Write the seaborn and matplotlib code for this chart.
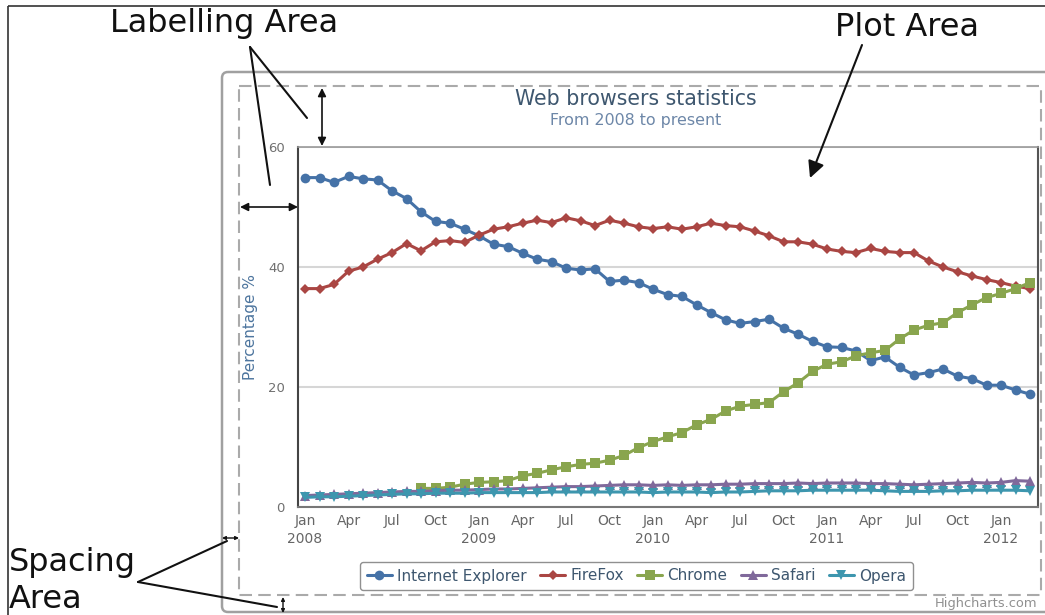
import numpy as np
import pandas as pd
import matplotlib
matplotlib.use("Agg")
import matplotlib.pyplot as plt
import seaborn as sns
from matplotlib.patches import FancyBboxPatch, Rectangle

# ---------------- data ----------------
months = list(range(51))  # monthly points, Jan 2008 .. Mar 2012
tick_months = list(range(0, 49, 3))
tick_labels = ["Jan\n2008", "Apr", "Jul", "Oct",
               "Jan\n2009", "Apr", "Jul", "Oct",
               "Jan\n2010", "Apr", "Jul", "Oct",
               "Jan\n2011", "Apr", "Jul", "Oct",
               "Jan\n2012"]
y_ticks = [0, 20, 40, 60]

ie = [54.9, 54.9, 54.1, 55.1, 54.7, 54.5, 52.7, 51.4, 49.2, 47.6,
      47.3, 46.3, 45.2, 43.8, 43.4, 42.3, 41.3, 40.9, 39.8, 39.5,
      39.7, 37.6, 37.8, 37.4, 36.3, 35.4, 35.1, 33.7, 32.4, 31.2,
      30.6, 30.9, 31.3, 29.8, 28.8, 27.6, 26.7, 26.6, 26.0, 24.4,
      25.0, 23.3, 22.0, 22.4, 23.0, 21.8, 21.4, 20.3, 20.3, 19.5,
      18.8]
firefox = [36.4, 36.4, 37.1, 39.3, 40.0, 41.3, 42.4, 43.9, 42.7, 44.2,
           44.4, 44.1, 45.3, 46.3, 46.7, 47.3, 47.8, 47.4, 48.2, 47.7,
           46.9, 47.8, 47.3, 46.7, 46.4, 46.7, 46.3, 46.7, 47.3, 46.9,
           46.7, 46.0, 45.2, 44.2, 44.2, 43.8, 43.0, 42.6, 42.4, 43.1,
           42.6, 42.4, 42.4, 41.0, 40.0, 39.2, 38.5, 37.9, 37.4, 36.8,
           36.4]
chrome_months = list(range(8, 51))
chrome = [3.1, 3.1, 3.3, 3.8, 4.1, 4.2, 4.4, 5.2, 5.6, 6.2,
          6.7, 7.1, 7.3, 7.8, 8.6, 9.9, 10.9, 11.7, 12.4, 13.7,
          14.6, 16.0, 16.8, 17.1, 17.4, 19.2, 20.7, 22.6, 23.8, 24.2,
          25.2, 25.7, 26.1, 28.0, 29.5, 30.3, 30.7, 32.4, 33.7, 34.9,
          35.6, 36.4, 37.4]
safari = [1.9, 2.0, 2.1, 2.2, 2.3, 2.4, 2.5, 2.6, 2.6, 2.7,
          2.8, 2.8, 2.9, 3.0, 3.0, 3.1, 3.2, 3.3, 3.4, 3.4,
          3.5, 3.6, 3.7, 3.7, 3.6, 3.7, 3.6, 3.7, 3.7, 3.8,
          3.8, 3.9, 3.9, 3.9, 4.0, 3.9, 4.0, 4.0, 4.0, 3.9,
          3.9, 3.8, 3.7, 3.8, 3.9, 4.0, 4.1, 4.0, 4.1, 4.4,
          4.3]
opera = [1.6, 1.7, 1.7, 1.8, 1.9, 2.0, 2.1, 2.2, 2.2, 2.3,
         2.3, 2.3, 2.4, 2.4, 2.4, 2.4, 2.4, 2.5, 2.5, 2.5,
         2.5, 2.5, 2.5, 2.5, 2.4, 2.5, 2.5, 2.5, 2.4, 2.5,
         2.5, 2.6, 2.7, 2.7, 2.7, 2.8, 2.8, 2.8, 2.8, 2.8,
         2.7, 2.6, 2.6, 2.6, 2.7, 2.7, 2.8, 2.8, 2.8, 2.8,
         2.7]

series_names = ["Internet Explorer", "FireFox", "Chrome", "Safari", "Opera"]
series_colors = ["#4572A7", "#AA4643", "#89A54E", "#80699B", "#3D96AE"]
series_markers = ["o", "D", "s", "^", "v"]
series_msize = [7.0, 5.0, 6.6, 7.2, 7.2]

# ---------------- figure ----------------
sns.set_style("white")
plt.rcParams["font.family"] = ["DejaVu Sans"]

W, H = 1045, 615
fig = plt.figure(figsize=(W / 100, H / 100), dpi=100)
fig.patch.set_facecolor("white")

def fy(py):
    return 1 - py / H

ax = fig.add_axes([298 / W, 1 - 507 / H, 740 / W, 360 / H])
ax.set_facecolor("white")

xs = [months, months, chrome_months, months, months]
ys = [ie, firefox, chrome, safari, opera]
for x, y, name, c, m, ms in zip(xs, ys, series_names, series_colors,
                                 series_markers, series_msize):
    sns.lineplot(x=x, y=y, ax=ax, color=c, marker=m, markersize=ms,
                 markeredgewidth=0, linewidth=2.2, label=name)

ax.set_xlim(-0.483, 50.55)
ax.set_ylim(0, 60)
ax.set_yticks(y_ticks)
ax.set_yticklabels([str(v) for v in y_ticks])
ax.set_xticks(tick_months)
ax.set_xticklabels(tick_labels, linespacing=1.35)
ax.set_xticks([t + 0.55 for t in tick_months], minor=True)
ax.tick_params(axis="x", which="major", length=0, pad=5, labelsize=10,
               labelcolor="#666666")
ax.tick_params(axis="x", which="minor", direction="out", length=5,
               width=1, color="#C0D0E0")
ax.tick_params(axis="y", which="major", length=0, pad=9.5, labelsize=9.5,
               labelcolor="#707070")
ax.set_xlabel("")
ax.set_ylabel("")
ax.grid(False)
ax.yaxis.grid(True, color="#d6d6d6", linewidth=1.5)
ax.set_axisbelow(True)

for side, col, lw in [("left", "#444444", 1.5), ("top", "#999999", 1.2),
                      ("right", "#555555", 1.5), ("bottom", "#777777", 1.5)]:
    ax.spines[side].set_visible(True)
    ax.spines[side].set_color(col)
    ax.spines[side].set_linewidth(lw)

handles, labels = ax.get_legend_handles_labels()
leg = ax.legend(handles, labels, loc="center",
                bbox_to_anchor=(636.5 / W, fy(576)),
                bbox_transform=fig.transFigure, ncol=5, frameon=True,
                fancybox=True, edgecolor="#909090", facecolor="white",
                fontsize=11, handlelength=1.65, handletextpad=0.35,
                columnspacing=0.85, borderpad=0.45, framealpha=1)
leg.get_frame().set_linewidth(1.0)
for t in leg.get_texts():
    t.set_color("#3E576F")

# chart texts
fig.text(636 / W, fy(105), "Web browsers statistics", ha="center",
         va="baseline", fontsize=14.8, color="#3E576F")
fig.text(636 / W, fy(125), "From 2008 to present", ha="center",
         va="baseline", fontsize=11.4, color="#6D87A8")
fig.text(250 / W, fy(327), "Percentage %", ha="center", va="center",
         rotation=90, fontsize=11, color="#4D759E")
fig.text(1037 / W, fy(603), "Highcharts.com", ha="right", va="center",
         fontsize=9.4, color="#909090")

# ---------------- overlay (boxes and annotations) ----------------
ov = fig.add_axes([0, 0, 1, 1])
ov.set_xlim(0, W)
ov.set_ylim(H, 0)
ov.axis("off")
ov.set_zorder(10)
ov.patch.set_alpha(0)

# outer black frame
ov.plot([8, 8], [6, H + 5], color="#333333", lw=1.2, solid_capstyle="butt")
ov.plot([8, W + 5], [6, 6], color="#333333", lw=1.2, solid_capstyle="butt")

# chart container (rounded gray)
ov.add_patch(FancyBboxPatch((222, 72), 900, 540,
                            boxstyle="round,pad=0,rounding_size=6",
                            fill=False, edgecolor="#a0a0a0", lw=1.8))
# dashed spacing boundary
ov.add_patch(Rectangle((239, 86), 802, 509, fill=False,
                       edgecolor="#aaaaaa", lw=1.5, linestyle=(0, (6, 3))))

# annotation texts
ov.text(110, 32, "Labelling Area", fontsize=23, color="#111111",
        ha="left", va="baseline")
ov.text(835, 36, "Plot Area", fontsize=23, color="#111111",
        ha="left", va="baseline")
ov.text(9, 571, "Spacing", fontsize=23, color="#111111",
        ha="left", va="baseline")
ov.text(9, 608, "Area", fontsize=23, color="#111111",
        ha="left", va="baseline")

# labelling pointer lines
ov.plot([250, 270], [47, 185], color="#111111", lw=1.5)
ov.plot([250, 307], [47, 118], color="#111111", lw=1.5)

def darrow(p0, p1, scale=12, lw=1.2):
    ov.annotate("", xy=p1, xytext=p0,
                arrowprops=dict(arrowstyle="<|-|>", color="#111111", lw=lw,
                                mutation_scale=scale, shrinkA=0, shrinkB=0))

darrow((322, 88), (322, 146))
darrow((240, 207), (298, 207))
darrow((222, 538), (239, 538), scale=5, lw=1.0)
darrow((283, 597), (283, 613), scale=5, lw=1.0)

# plot area pointer
ov.annotate("", xy=(810, 178), xytext=(862, 45),
            arrowprops=dict(arrowstyle="-|>", color="#111111", lw=1.5,
                            mutation_scale=25, shrinkA=0, shrinkB=0))

# spacing pointer lines
ov.plot([138, 227], [582, 541], color="#111111", lw=1.5)
ov.plot([138, 277], [582, 607], color="#111111", lw=1.5)

fig.savefig("out.png", dpi=100, facecolor="white")
